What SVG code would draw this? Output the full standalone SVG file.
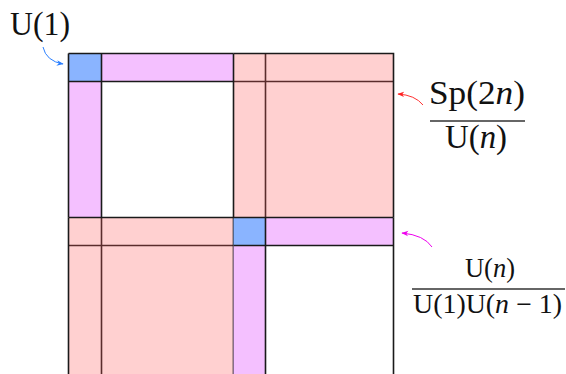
<svg xmlns="http://www.w3.org/2000/svg" width="566" height="374" viewBox="0 0 566 374">
<defs>
<style>
.blue{fill:#8ab4ff}
.pink{fill:#f4c0ff}
.red{fill:#ffd0d0}
.edge{fill:none;stroke:#1a1a1a;stroke-width:1.6}
.inner{fill:none;stroke:#5a2c2c;stroke-width:1.6}
.lbl{fill:#111}
.frac{stroke:#333;stroke-width:1.6}
.it{font-style:italic}
</style>
<marker id="ab" viewBox="0 0 10 10" refX="9" refY="5" markerWidth="7" markerHeight="7" orient="auto" markerUnits="userSpaceOnUse"><path d="M0,1 L10,5 L0,9 L3,5 Z" fill="#2a7fff"/></marker>
<marker id="ar" viewBox="0 0 10 10" refX="9" refY="5" markerWidth="7" markerHeight="7" orient="auto" markerUnits="userSpaceOnUse"><path d="M0,1 L10,5 L0,9 L3,5 Z" fill="#ff2020"/></marker>
<marker id="am" viewBox="0 0 10 10" refX="9" refY="5" markerWidth="7" markerHeight="7" orient="auto" markerUnits="userSpaceOnUse"><path d="M0,1 L10,5 L0,9 L3,5 Z" fill="#ee00ee"/></marker>
</defs>
<rect width="566" height="374" fill="#fff"/>

<g id="block-top-left">
<rect class="blue" x="68.5" y="53.5" width="33" height="28"/>
<rect class="pink" x="101.5" y="53.5" width="132" height="28"/>
<rect class="pink" x="68.5" y="81.5" width="33" height="136"/>
<path class="edge" d="M68.5,53.5 H233.5 M68.5,81.5 H233.5 M101.5,53.5 V217.5 M68.5,53.5 V217.5"/>
</g>

<g id="block-top-right">
<rect class="red" x="233.5" y="53.5" width="160" height="164"/>
<path class="inner" d="M233.5,81.5 H393.5 M265.5,53.5 V217.5"/>
<path class="edge" d="M233.5,53.5 H393.5 V217.5 M233.5,53.5 V217.5"/>
</g>

<g id="block-bottom-left">
<rect class="red" x="68.5" y="217.5" width="165" height="157"/>
<path class="inner" d="M68.5,245.5 H233.5 M101.5,217.5 V374"/>
<path class="edge" d="M68.5,217.5 V374 M233.5,217.5 V374"/>
</g>

<g id="block-bottom-right">
<rect class="blue" x="233.5" y="217.5" width="32" height="28"/>
<rect class="pink" x="265.5" y="217.5" width="128" height="28"/>
<rect class="pink" x="233.5" y="245.5" width="32" height="129"/>
<path class="edge" d="M68.5,217.5 H393.5 M233.5,245.5 H393.5 M265.5,217.5 V374 M393.5,217.5 V374"/>
</g>

<g id="label-u1" font-family="Liberation Serif, DejaVu Serif, serif">
<text class="lbl" x="10" y="35" font-size="34" textLength="60" lengthAdjust="spacingAndGlyphs">U(1)</text>
</g>

<g id="label-sp" font-family="Liberation Serif, DejaVu Serif, serif">
<text class="lbl" x="429" y="104" font-size="33" textLength="96" lengthAdjust="spacingAndGlyphs">Sp(2<tspan class="it">n</tspan>)</text>
<line class="frac" x1="430" y1="121" x2="525" y2="121"/>
<text class="lbl" x="445" y="148" font-size="33" textLength="62" lengthAdjust="spacingAndGlyphs">U(<tspan class="it">n</tspan>)</text>
</g>

<g id="label-un" font-family="Liberation Serif, DejaVu Serif, serif">
<text class="lbl" x="465" y="277" font-size="27" textLength="50" lengthAdjust="spacingAndGlyphs">U(<tspan class="it">n</tspan>)</text>
<line class="frac" x1="412" y1="289" x2="565" y2="289"/>
<text class="lbl" x="413" y="313" font-size="27" textLength="149" lengthAdjust="spacingAndGlyphs">U(1)U(<tspan class="it">n</tspan> − 1)</text>
</g>

<g id="connectors" fill="none" stroke-width="1">
<path d="M43,47 Q46,61 63,64" stroke="#2a7fff" marker-end="url(#ab)"/>
<path d="M423,105 Q415,95 398,94" stroke="#ff3030" marker-end="url(#ar)"/>
<path d="M432,247 Q424,235 402,233" stroke="#ee00ee" marker-end="url(#am)"/>
</g>
</svg>
